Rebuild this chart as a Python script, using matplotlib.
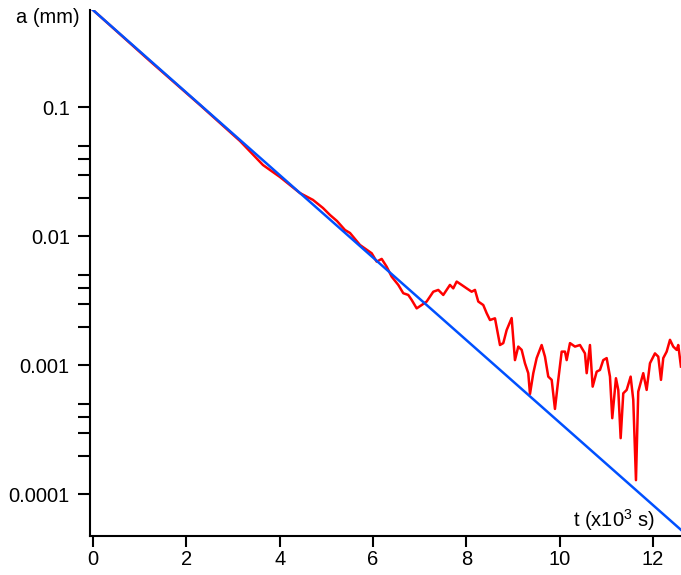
import matplotlib
matplotlib.use("Agg")
import matplotlib.pyplot as plt
from matplotlib.ticker import FixedLocator, NullFormatter

plt.rcParams['font.family'] = ['Liberation Sans', 'DejaVu Sans']
plt.rcParams['mathtext.fontset'] = 'custom'
plt.rcParams['mathtext.rm'] = 'Liberation Sans'

# Measured amplitude (red)
t_meas = [0.0, 1.221, 2.293, 3.150, 3.643, 4.007, 4.435, 4.714, 4.928, 5.078,
          5.228, 5.400, 5.507, 5.721, 5.972, 6.079, 6.186, 6.293, 6.400, 6.542,
          6.649, 6.756, 6.829, 6.936, 7.043, 7.150, 7.292, 7.399, 7.506, 7.649,
          7.720, 7.793, 7.900, 8.007, 8.114, 8.185, 8.256, 8.363, 8.436, 8.507,
          8.614, 8.721, 8.792, 8.864, 8.971, 9.042, 9.113, 9.186, 9.256, 9.327,
          9.364, 9.435, 9.507, 9.614, 9.685, 9.756, 9.829, 9.899, 9.970, 10.043,
          10.114, 10.150, 10.221, 10.328, 10.435, 10.542, 10.579, 10.649, 10.707, 10.793,
          10.864, 10.934, 11.007, 11.078, 11.127, 11.206, 11.256, 11.307, 11.363, 11.436,
          11.521, 11.577, 11.635, 11.684, 11.791, 11.864, 11.935, 12.042, 12.113, 12.171,
          12.220, 12.293, 12.364, 12.434, 12.507, 12.541, 12.599]
a_meas = [0.570, 0.229, 0.1045, 0.0550, 0.0358, 0.0289, 0.0217, 0.0192, 0.01663, 0.01468,
          0.01318, 0.01122, 0.01064, 0.00859, 0.00741, 0.00638, 0.00670, 0.00583, 0.00488, 0.00421,
          0.00363, 0.00352, 0.00322, 0.00277, 0.00294, 0.00313, 0.00373, 0.00385, 0.00352, 0.00421,
          0.00396, 0.00447, 0.00421, 0.00396, 0.00373, 0.00385, 0.00313, 0.00294, 0.00254, 0.00225,
          0.00232, 0.00144, 0.00149, 0.00188, 0.00233, 0.00110, 0.00140, 0.00132, 0.00104, 0.000871,
          0.000601, 0.000871, 0.00114, 0.00144, 0.00117, 0.000819, 0.000773, 0.000460, 0.000773, 0.00128,
          0.00128, 0.00110, 0.00149, 0.00140, 0.00144, 0.00124, 0.000871, 0.00144, 0.000685, 0.000895,
          0.000923, 0.00110, 0.00114, 0.000819, 0.000390, 0.000796, 0.000646, 0.000273, 0.000608, 0.000646,
          0.000819, 0.000541, 0.000129, 0.000627, 0.000871, 0.000646, 0.00104, 0.00124, 0.00117, 0.000773,
          0.00114, 0.00128, 0.00158, 0.00140, 0.00132, 0.00144, 0.00098]

# Exponential fit (blue), end points
t_fit = [0.0, 12.6]
a_fit = [0.570, 5.31e-5]

y_major = [0.1, 0.01, 0.001, 0.0001]
y_major_labels = ["0.1", "0.01", "0.001", "0.0001"]
y_minor = [m * d for d in (0.01, 0.001, 0.0001) for m in (2, 3, 4, 5)]
x_ticks = [0, 2, 4, 6, 8, 10, 12]

fig = plt.figure(figsize=(6.81, 5.75), dpi=100)
ax = fig.add_axes([90/681, 39/575, 591/681, 526/575])

ax.plot(t_meas, a_meas, color='#ff0000', lw=1.8, solid_joinstyle='round')
ax.plot(t_fit, a_fit, color='#0050ff', lw=1.8)

ax.set_yscale('log')
ax.set_xlim(-0.064, 12.6)
ax.set_ylim(4.76e-5, 0.570)

ax.yaxis.set_major_locator(FixedLocator(y_major))
ax.set_yticklabels(y_major_labels)
ax.yaxis.set_minor_locator(FixedLocator(y_minor))
ax.yaxis.set_minor_formatter(NullFormatter())
ax.set_xticks(x_ticks)
ax.set_xticklabels([str(v) for v in x_ticks])

for s in ('top', 'right'):
    ax.spines[s].set_visible(False)
for s in ('left', 'bottom'):
    ax.spines[s].set_linewidth(1.5)
    ax.spines[s].set_color('black')

ax.tick_params(axis='y', which='both', direction='out', length=9, width=1.5,
               labelsize=14.5, pad=5.5)
ax.tick_params(axis='x', which='major', direction='out', length=8, width=1.5,
               labelsize=14.5, pad=2)

ax.text(0.956, 0.017, "t (x10$^{3}$ s)", transform=ax.transAxes,
        ha='right', va='baseline', fontsize=14.5)
fig.text(80/681, 1 - 22.7/575, "a (mm)", ha='right', va='baseline', fontsize=14.5)

fig.savefig("out.png", dpi=100)
